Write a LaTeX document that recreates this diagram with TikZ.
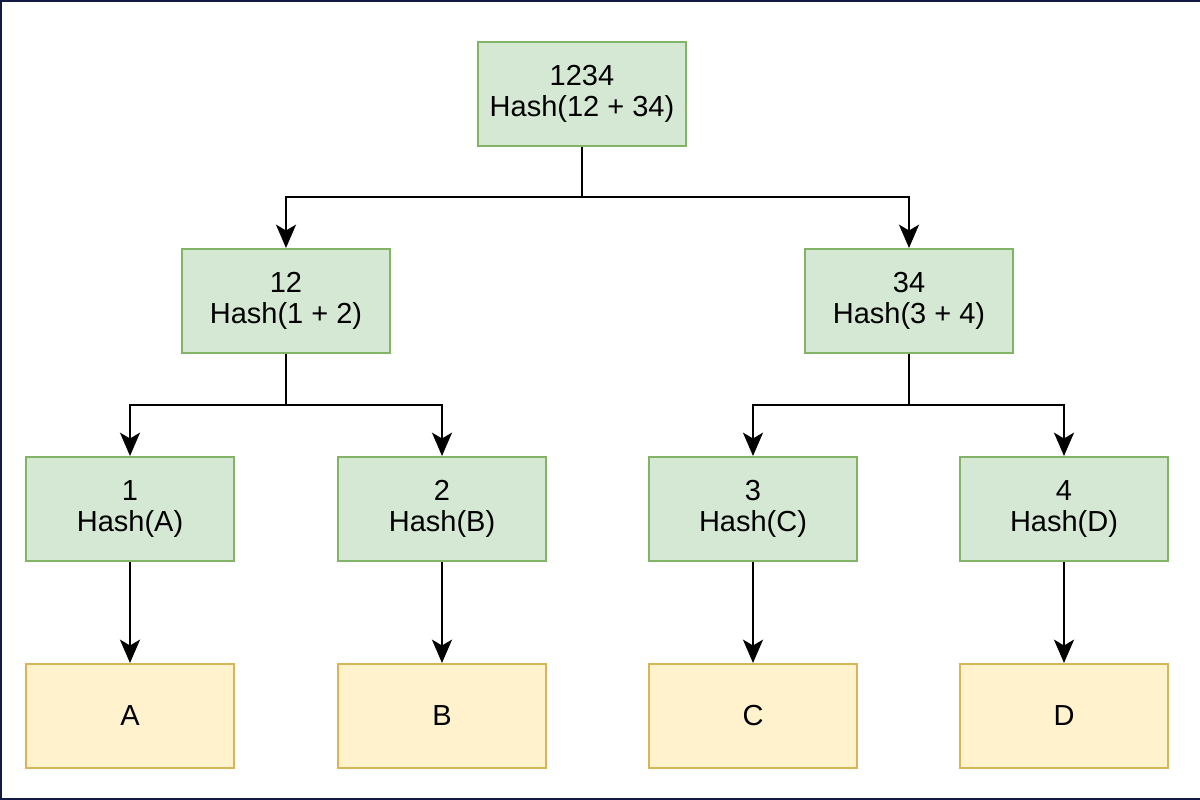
\documentclass[tikz,border=0pt]{standalone}
\usepackage{fontspec}
\setmainfont{Liberation Sans}
\usetikzlibrary{arrows.meta}

\definecolor{hashfill}{HTML}{D5E8D4}
\definecolor{hashline}{HTML}{82B366}
\definecolor{datafill}{HTML}{FFF2CC}
\definecolor{dataline}{HTML}{D6B656}
\definecolor{framecol}{HTML}{121A44}

\begin{document}
\begin{tikzpicture}
[
	x=0.6pt,
	y=-0.6pt,
	hashbox/.style={rectangle,draw=hashline,fill=hashfill,line width=1.2pt,
		minimum width=124.8pt,minimum height=62.4pt,inner sep=0pt,align=center,
		font=\fontsize{17.4pt}{19pt}\selectfont},
	databox/.style={hashbox,draw=dataline,fill=datafill},
	arr/.style={line width=1.4pt,-{Stealth[length=14pt,width=12pt,inset=3.5pt]}}
]

	\useasboundingbox (0,0) rectangle (1200,800);

	% frame
	\draw[framecol,line width=1.4pt]
	  (1200,1) -- (1,1) -- (1,799) -- (1200,799)
	;

	% root
	\node[hashbox] (root) at (582,94) {1234\\Hash(12 + 34)};

	% inner nodes
	\node[hashbox] (h12) at (286,301) {12\\Hash(1 + 2)};
	\node[hashbox] (h34) at (909,301) {34\\Hash(3 + 4)};

	% leaf hashes
	\node[hashbox] (h1) at (130,509) {1\\Hash(A)};
	\node[hashbox] (h2) at (442,509) {2\\Hash(B)};
	\node[hashbox] (h3) at (753,509) {3\\Hash(C)};
	\node[hashbox] (h4) at (1064,509) {4\\Hash(D)};

	% data blocks
	\node[databox] (a) at (130,716) {A};
	\node[databox] (b) at (442,716) {B};
	\node[databox] (c) at (753,716) {C};
	\node[databox] (d) at (1064,716) {D};

	% junctions
	\coordinate (jroot) at (582,197);
	\coordinate (j12) at (286,405);
	\coordinate (j34) at (909,405);

	% edges
	\draw[arr] (root.south) -- (jroot) -| (h12.north);
	\draw[arr] (jroot) -| (h34.north);
	\draw[arr] (h12.south) -- (j12) -| (h1.north);
	\draw[arr] (j12) -| (h2.north);
	\draw[arr] (h34.south) -- (j34) -| (h3.north);
	\draw[arr] (j34) -| (h4.north);

	\draw[arr] (h1) -- (a);
	\draw[arr] (h2) -- (b);
	\draw[arr] (h3) -- (c);
	\draw[arr] (h4) -- (d);

\end{tikzpicture}
\end{document}
